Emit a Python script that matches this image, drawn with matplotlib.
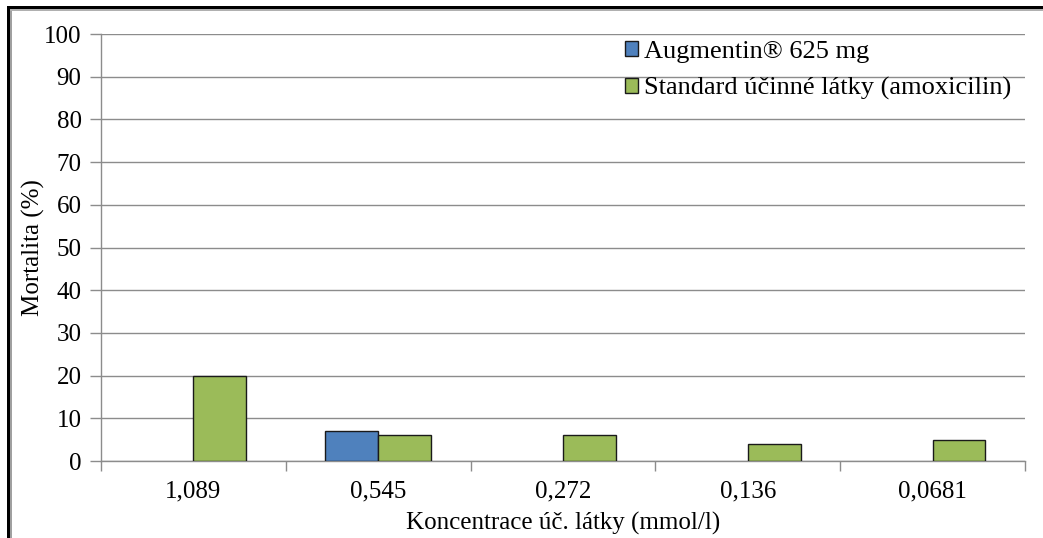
import numpy as np
import matplotlib.pyplot as plt
from matplotlib.patches import Rectangle, Patch

# Mortality data per concentration
concentrations = ["1,089", "0,545", "0,272", "0,136", "0,0681"]
augmentin = [0, 7, 0, 0, 0]
standard = [20, 6, 6, 4, 5]
series_names = ["Augmentin® 625 mg", "Standard účinné látky (amoxicilin)"]
y_ticks = [0, 10, 20, 30, 40, 50, 60, 70, 80, 90, 100]

plt.rcParams['font.family'] = ['Liberation Serif', 'DejaVu Serif']
FS = 18

W, H = 1043, 538
fig = plt.figure(figsize=(W / 100, H / 100), dpi=100)
ax = fig.add_axes([101 / W, 1 - 461 / H, (1025 - 101) / W, (461 - 34) / H])

x = np.arange(len(concentrations))
bw = 0.286
blue = "#4f81bd"
green = "#9bbb59"
b1 = ax.bar(x - bw / 2, augmentin, bw, color=blue, edgecolor="#1a1a1a", linewidth=1.0, zorder=3)
b2 = ax.bar(x + bw / 2, standard, bw, color=green, edgecolor="#1a1a1a", linewidth=1.0, zorder=3)
# empty values get no bar outline
for bars, vals in [(b1, augmentin), (b2, standard)]:
    for bar, v in zip(bars, vals):
        if v == 0:
            bar.set_visible(False)

ax.set_xlim(-0.5, len(concentrations) - 0.5)
ax.set_ylim(0, 100)
ax.set_yticks(y_ticks)
ax.yaxis.grid(True, color="#8c8c8c", linewidth=1.0, zorder=0)
ax.set_axisbelow(True)

# category separators on the x-axis
ax.set_xticks(np.arange(len(concentrations) + 1) - 0.5)
ax.set_xticklabels([])
ax.set_xticks(x, minor=True)
ax.set_xticklabels(concentrations, minor=True, fontsize=FS)
ax.tick_params(axis="x", which="major", length=7, color="#8c8c8c", width=1.0)
ax.tick_params(axis="x", which="minor", length=0, pad=14)
ax.tick_params(axis="y", length=8, color="#8c8c8c", width=1.0, labelsize=FS, pad=6)

for s in ["top", "right"]:
    ax.spines[s].set_visible(False)
for s in ["left", "bottom"]:
    ax.spines[s].set_color("#8c8c8c")
    ax.spines[s].set_linewidth(1.0)

ax.set_ylabel("Mortalita (%)", fontsize=FS)
ax.yaxis.set_label_coords(-(101 - 33) / (1025 - 101), 0.5)
ax.yaxis.label.set_verticalalignment("center")
ax.set_xlabel("Koncentrace úč. látky (mmol/l)", fontsize=FS)
ax.xaxis.set_label_coords(0.5, -(523 - 461) / (461 - 34))
ax.xaxis.label.set_verticalalignment("center")

handles = [Patch(facecolor=blue, edgecolor="#1a1a1a"),
           Patch(facecolor=green, edgecolor="#1a1a1a")]
fig.legend(handles, series_names, loc="upper left",
           bbox_to_anchor=(614 / W, 1 - 30 / H), frameon=False,
           fontsize=19, handlelength=0.5, handleheight=0.5,
           handletextpad=0.25, labelspacing=0.55, borderaxespad=0)

# outer frame (top and left edges)
fig.add_artist(Rectangle((7 / W, 0), 3 / W, 1 - 6 / H, transform=fig.transFigure,
                         color="black", lw=0))
fig.add_artist(Rectangle((10 / W, 0), 2 / W, 1 - 9 / H, transform=fig.transFigure,
                         color="#a0a0a0", lw=0))
fig.add_artist(Rectangle((7 / W, 1 - 9 / H), 1 - 7 / W, 3 / H, transform=fig.transFigure,
                         color="black", lw=0))
fig.add_artist(Rectangle((10 / W, 1 - 11 / H), 1 - 10 / W, 2 / H, transform=fig.transFigure,
                         color="#b0b0b0", lw=0))

fig.savefig("out.png", dpi=100)
